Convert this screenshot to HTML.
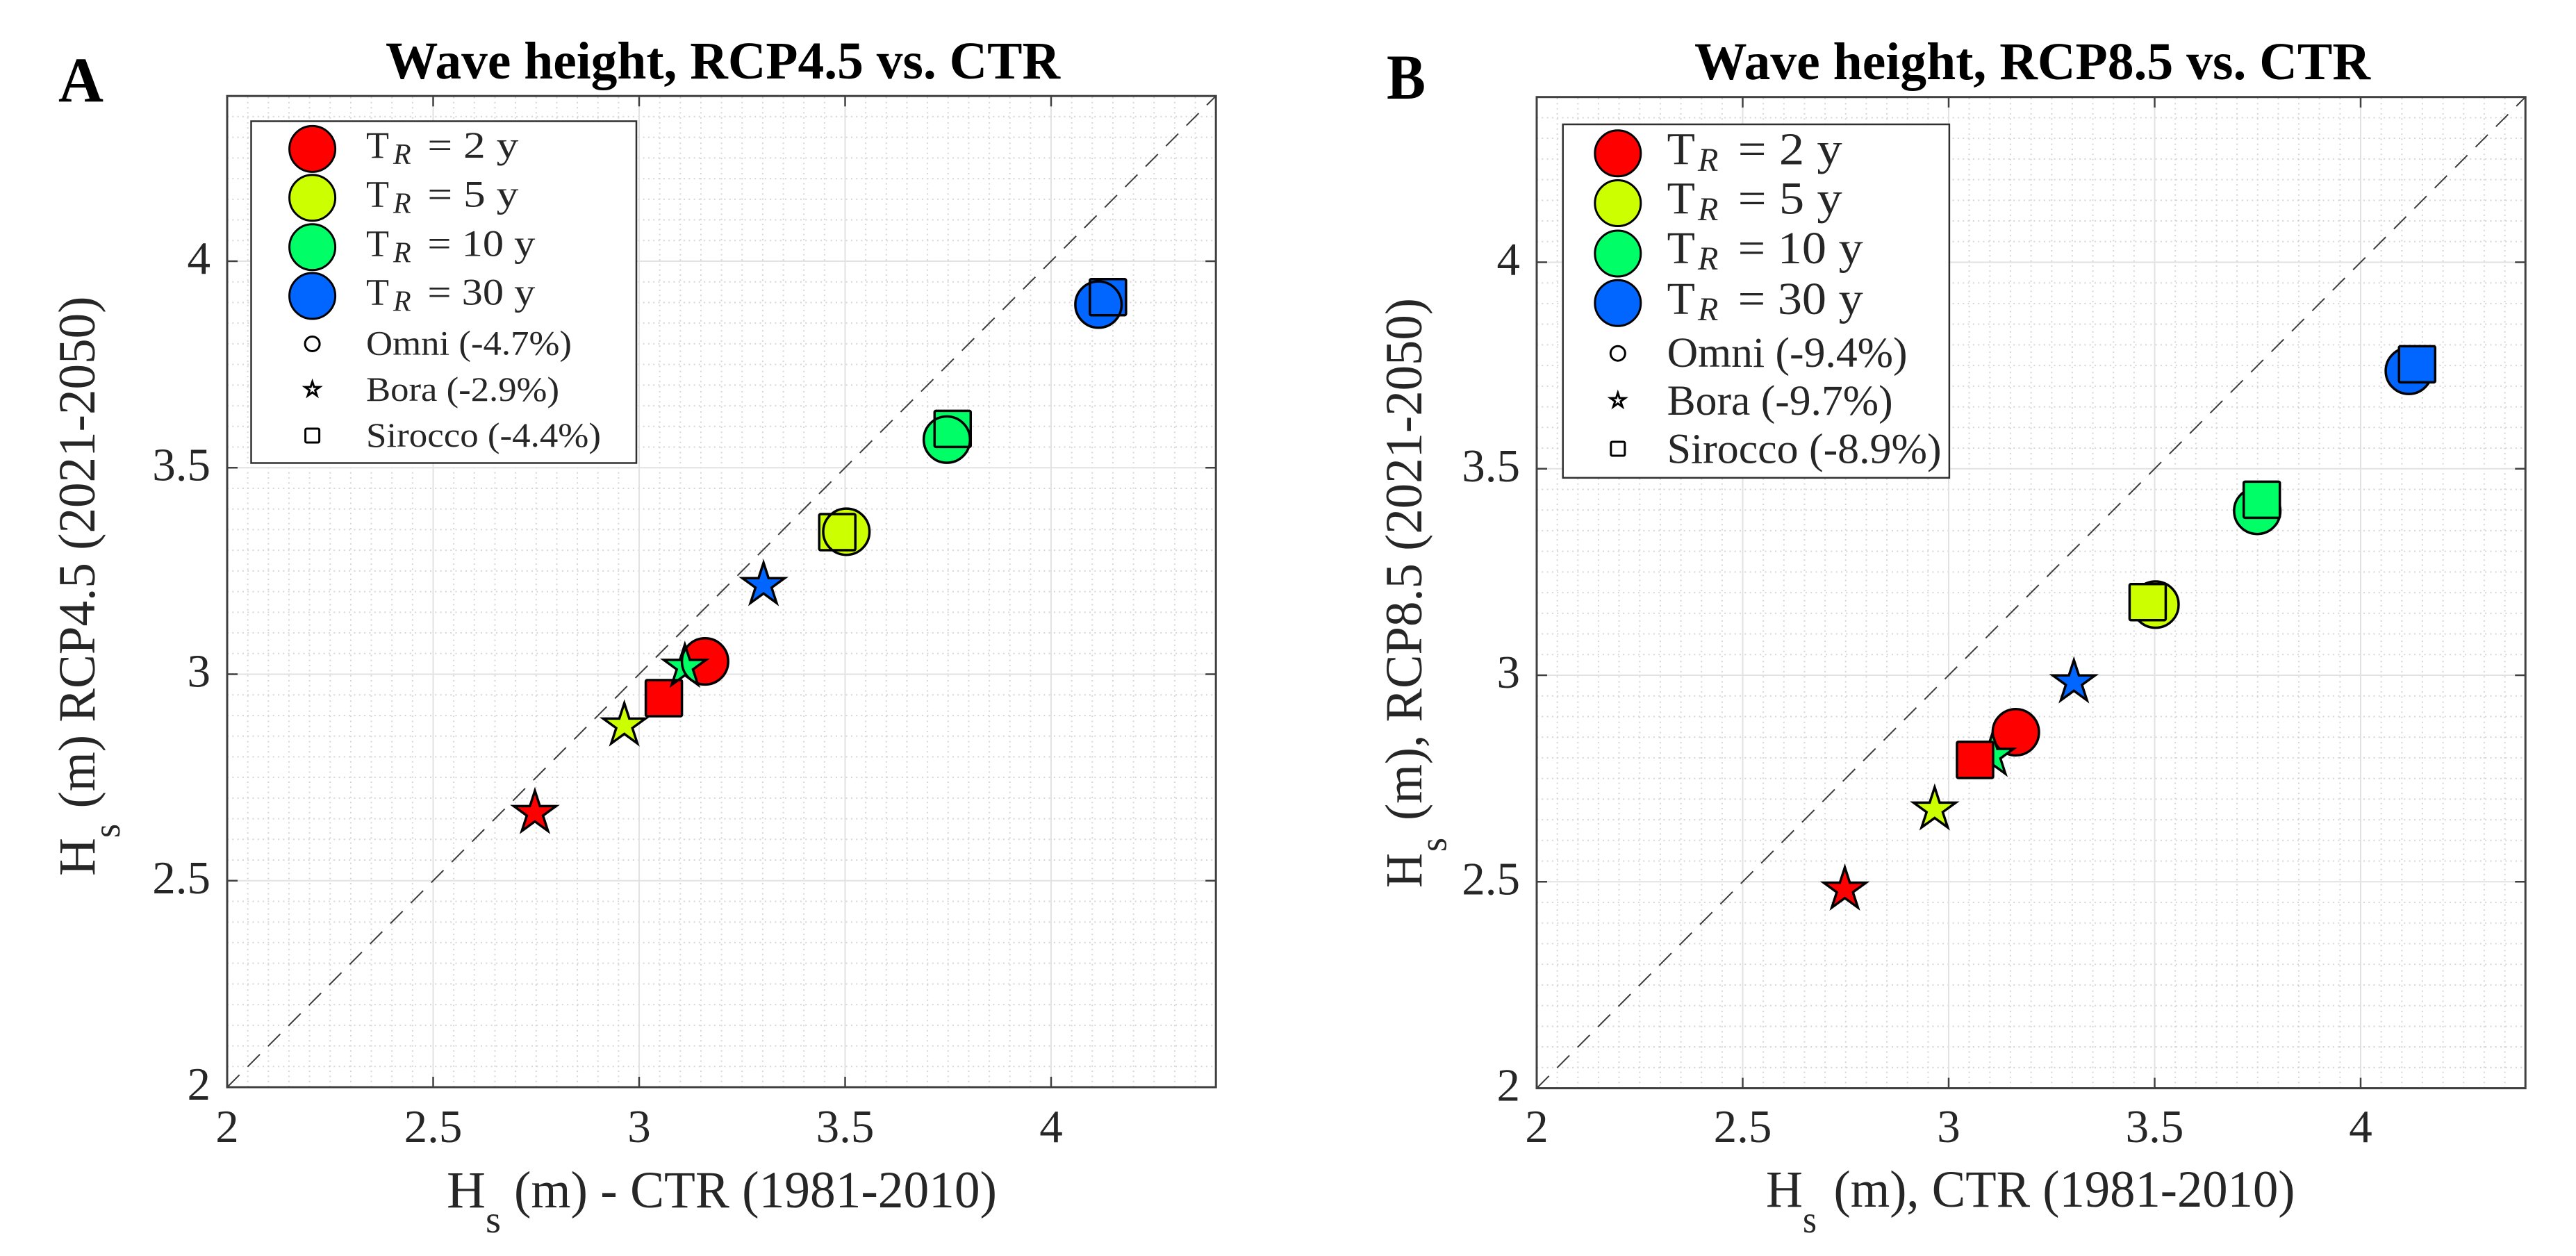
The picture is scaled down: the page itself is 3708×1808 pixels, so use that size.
<!DOCTYPE html>
<html lang="en">
<head>
<meta charset="utf-8">
<title>Wave height scatter comparison</title>
<style>
html,body{margin:0;padding:0;background:#fff;}
svg{display:block;}
text{font-family:"Liberation Serif","DejaVu Serif",serif;fill:#262626;}
.title,.panel{font-weight:bold;fill:#000;}
</style>
</head>
<body>
<svg id="figure" xmlns="http://www.w3.org/2000/svg" width="3708" height="1808" viewBox="0 0 3708 1808">
  <rect x="0" y="0" width="3708" height="1808" fill="#fff"/>
  <g id="plotA"></g>
  <g id="plotB"></g>

  <text class="panel" x="84" y="146" font-size="92" textLength="65" lengthAdjust="spacingAndGlyphs">A</text>
  <text class="title" x="555" y="113" font-size="76" textLength="971" lengthAdjust="spacingAndGlyphs">Wave height, RCP4.5 vs. CTR</text>
  <g>
    <text x="643" y="1738" font-size="75" textLength="56" lengthAdjust="spacingAndGlyphs">H</text>
    <text x="699" y="1774" font-size="55" textLength="22" lengthAdjust="spacingAndGlyphs">s</text>
    <text x="740" y="1738" font-size="75" textLength="695" lengthAdjust="spacingAndGlyphs">(m) - CTR (1981-2010)</text>
  </g>
  <g>
    <text transform="translate(136,1261) rotate(-90)" font-size="75" textLength="55" lengthAdjust="spacingAndGlyphs">H</text>
    <text transform="translate(172,1206) rotate(-90)" font-size="55" textLength="20" lengthAdjust="spacingAndGlyphs">s</text>
    <text transform="translate(136,1163.5) rotate(-90)" font-size="75" textLength="737" lengthAdjust="spacingAndGlyphs">(m) RCP4.5 (2021-2050)</text>
  </g>
  <g>
    <rect x="361.5" y="174.5" width="554.5" height="492" fill="#fff" stroke="#303030" stroke-width="2.5"/>
    <g>
      <circle cx="449.6" cy="214.4" r="33" fill="#ff0000" stroke="#000" stroke-width="3"/>
      <text x="527" y="227" font-size="54">T</text><text x="566" y="236" font-size="42" font-style="italic">R</text>
      <text x="615.4" y="227" font-size="54" textLength="131" lengthAdjust="spacingAndGlyphs">= 2 y</text>
    </g>
    <g>
      <circle cx="449.6" cy="284.7" r="33" fill="#ccff00" stroke="#000" stroke-width="3"/>
      <text x="527" y="297.5" font-size="54">T</text><text x="566" y="306.5" font-size="42" font-style="italic">R</text>
      <text x="615.4" y="297.5" font-size="54" textLength="131" lengthAdjust="spacingAndGlyphs">= 5 y</text>
    </g>
    <g>
      <circle cx="449.6" cy="355.8" r="33" fill="#00ff66" stroke="#000" stroke-width="3"/>
      <text x="527" y="368.7" font-size="54">T</text><text x="566" y="377.7" font-size="42" font-style="italic">R</text>
      <text x="615.4" y="368.7" font-size="54" textLength="155" lengthAdjust="spacingAndGlyphs">= 10 y</text>
    </g>
    <g>
      <circle cx="449.6" cy="426" r="33" fill="#0066ff" stroke="#000" stroke-width="3"/>
      <text x="527" y="438.5" font-size="54">T</text><text x="566" y="447.5" font-size="42" font-style="italic">R</text>
      <text x="615.4" y="438.5" font-size="54" textLength="155" lengthAdjust="spacingAndGlyphs">= 30 y</text>
    </g>
    <g>
      <circle cx="449.6" cy="495" r="10.5" fill="none" stroke="#000" stroke-width="3"/>
      <text x="527" y="510.6" font-size="50" textLength="296" lengthAdjust="spacingAndGlyphs">Omni (-4.7%)</text>
    </g>
    <g>
      <polygon points="449.6,549.5 452.1,557.1 460.1,557.1 453.6,561.8 456.1,569.5 449.6,564.8 443.1,569.5 445.6,561.8 439.1,557.1 447.1,557.1" fill="none" stroke="#000" stroke-width="3"/>
      <text x="527" y="577" font-size="50" textLength="278" lengthAdjust="spacingAndGlyphs">Bora (-2.9%)</text>
    </g>
    <g>
      <rect x="439.6" y="617" width="20" height="20" rx="2" fill="none" stroke="#000" stroke-width="3"/>
      <text x="527" y="642.8" font-size="50" textLength="338" lengthAdjust="spacingAndGlyphs">Sirocco (-4.4%)</text>
    </g>
  </g>

  <text class="panel" x="1996" y="142" font-size="92" textLength="56" lengthAdjust="spacingAndGlyphs">B</text>
  <text class="title" x="2439" y="114" font-size="76" textLength="973" lengthAdjust="spacingAndGlyphs">Wave height, RCP8.5 vs. CTR</text>
  <g>
    <text x="2542" y="1737" font-size="75" textLength="53" lengthAdjust="spacingAndGlyphs">H</text>
    <text x="2595" y="1774" font-size="55" textLength="20" lengthAdjust="spacingAndGlyphs">s</text>
    <text x="2639.5" y="1737" font-size="75" textLength="664" lengthAdjust="spacingAndGlyphs">(m), CTR (1981-2010)</text>
  </g>
  <g>
    <text transform="translate(2046,1278) rotate(-90)" font-size="75" textLength="50" lengthAdjust="spacingAndGlyphs">H</text>
    <text transform="translate(2081.7,1226) rotate(-90)" font-size="55" textLength="20" lengthAdjust="spacingAndGlyphs">s</text>
    <text transform="translate(2046,1181) rotate(-90)" font-size="75" textLength="752" lengthAdjust="spacingAndGlyphs">(m), RCP8.5 (2021-2050)</text>
  </g>
  <g>
    <rect x="2249.7" y="179" width="556.2" height="508.8" fill="#fff" stroke="#303030" stroke-width="2.5"/>
    <g>
      <circle cx="2328.8" cy="220.8" r="33" fill="#ff0000" stroke="#000" stroke-width="3"/>
      <text x="2399.6" y="236.5" font-size="66">T</text><text x="2444" y="246" font-size="48" font-style="italic">R</text>
      <text x="2501.7" y="236.5" font-size="66" textLength="150" lengthAdjust="spacingAndGlyphs">= 2 y</text>
    </g>
    <g>
      <circle cx="2328.8" cy="292.5" r="33" fill="#ccff00" stroke="#000" stroke-width="3"/>
      <text x="2399.6" y="307.6" font-size="66">T</text><text x="2444" y="317" font-size="48" font-style="italic">R</text>
      <text x="2501.7" y="307.6" font-size="66" textLength="150" lengthAdjust="spacingAndGlyphs">= 5 y</text>
    </g>
    <g>
      <circle cx="2328.8" cy="365" r="33" fill="#00ff66" stroke="#000" stroke-width="3"/>
      <text x="2399.6" y="378.8" font-size="66">T</text><text x="2444" y="388" font-size="48" font-style="italic">R</text>
      <text x="2501.7" y="378.8" font-size="66" textLength="180" lengthAdjust="spacingAndGlyphs">= 10 y</text>
    </g>
    <g>
      <circle cx="2328.8" cy="436.2" r="33" fill="#0066ff" stroke="#000" stroke-width="3"/>
      <text x="2399.6" y="452" font-size="66">T</text><text x="2444" y="461" font-size="48" font-style="italic">R</text>
      <text x="2501.7" y="452" font-size="66" textLength="180" lengthAdjust="spacingAndGlyphs">= 30 y</text>
    </g>
    <g>
      <circle cx="2328.8" cy="508.7" r="10.5" fill="none" stroke="#000" stroke-width="3"/>
      <text x="2399.6" y="528" font-size="61" textLength="346" lengthAdjust="spacingAndGlyphs">Omni (-9.4%)</text>
    </g>
    <g>
      <polygon points="2328.8,565.5 2331.3,573.1 2339.3,573.1 2332.8,577.8 2335.3,585.5 2328.8,580.8 2322.3,585.5 2324.8,577.8 2318.3,573.1 2326.3,573.1" fill="none" stroke="#000" stroke-width="3"/>
      <text x="2399.6" y="597" font-size="61" textLength="325" lengthAdjust="spacingAndGlyphs">Bora (-9.7%)</text>
    </g>
    <g>
      <rect x="2318.8" y="636" width="20" height="20" rx="2" fill="none" stroke="#000" stroke-width="3"/>
      <text x="2399.6" y="666.7" font-size="61" textLength="395" lengthAdjust="spacingAndGlyphs">Sirocco (-8.9%)</text>
    </g>
  </g>
</svg>

<script>
const returnPeriods = ['2', '5', '10', '30'];
const axisMin = 2;
const axisMax = 4.4;
const minorStep = 0.05;
const tickValues = [2, 2.5, 3, 3.5, 4];
const tickLabels = ['2', '2.5', '3', '3.5', '4'];

const omniCtrA = [3.16, 3.503, 3.747, 4.115];
const omniRcpA = [3.031, 3.345, 3.568, 3.895];
const boraCtrA = [2.747, 2.964, 3.111, 3.302];
const boraRcpA = [2.664, 2.876, 3.018, 3.216];
const siroccoCtrA = [3.06, 3.481, 3.761, 4.138];
const siroccoRcpA = [2.942, 3.344, 3.594, 3.913];

const omniCtrB = [3.163, 3.502, 3.749, 4.117];
const omniRcpB = [2.862, 3.171, 3.398, 3.737];
const boraCtrB = [2.748, 2.966, 3.106, 3.304];
const boraRcpB = [2.481, 2.675, 2.805, 2.983];
const siroccoCtrB = [3.064, 3.483, 3.76, 4.137];
const siroccoRcpB = [2.795, 3.177, 3.425, 3.753];

const periodFill = { '2': '#ff0000', '5': '#ccff00', '10': '#00ff66', '30': '#0066ff' };

const NS = 'http://www.w3.org/2000/svg';

function make(parent, tag, attrs) {
  const el = document.createElementNS(NS, tag);
  for (const key in attrs) {
    el.setAttribute(key, attrs[key]);
  }
  parent.appendChild(el);
  return el;
}

function starPoints(cx, cy, outer) {
  const inner = outer * 0.382;
  const pts = [];
  for (let i = 0; i < 10; i++) {
    const r = i % 2 === 0 ? outer : inner;
    const a = -Math.PI / 2 + i * Math.PI / 5;
    pts.push((cx + r * Math.cos(a)).toFixed(2) + ',' + (cy + r * Math.sin(a)).toFixed(2));
  }
  return pts.join(' ');
}

function drawShape(parent, shape, px, py, fill, stroke) {
  const paint = { fill: fill, stroke: stroke, 'stroke-width': 3.5, 'stroke-linejoin': 'miter' };
  if (shape === 'omni') {
    return make(parent, 'circle', Object.assign({ cx: px, cy: py, r: 33.3 }, paint));
  }
  if (shape === 'bora') {
    return make(parent, 'polygon', Object.assign({ points: starPoints(px, py, 32) }, paint));
  }
  return make(parent, 'rect', Object.assign({ x: px - 26, y: py - 26, width: 52, height: 52, rx: 2 }, paint));
}

function drawPanel(root, geom, series, edgesOnTop) {
  const xPos = function (v) { return geom.left + (v - axisMin) * geom.unitX; };
  const yPos = function (v) { return geom.bottom - (v - axisMin) * geom.unitY; };
  const xMinPx = xPos(axisMin), xMaxPx = xPos(axisMax);
  const yMinPx = yPos(axisMin), yMaxPx = yPos(axisMax);

  const plotBg = make(root, 'rect', { x: xMinPx, y: yMaxPx, width: xMaxPx - xMinPx, height: yMinPx - yMaxPx, fill: '#fff' });
  
  

  const minorGrid = make(root, 'g', { stroke: '#d6d6d6', 'stroke-width': 2, 'stroke-dasharray': '2 5.3', fill: 'none' });
  
  
  const minorCount = Math.round((axisMax - axisMin) / minorStep);
  for (let i = 1; i < minorCount; i++) {
    if (i % 10 === 0) continue;
    const v = axisMin + i * minorStep;
    const vLine = make(minorGrid, 'line', { x1: xPos(v), x2: xPos(v), y1: yMinPx, y2: yMaxPx });
    
    
    const hLine = make(minorGrid, 'line', { x1: xMinPx, x2: xMaxPx, y1: yPos(v), y2: yPos(v) });
    
    
  }

  const majorGrid = make(root, 'g', { stroke: '#e2e2e2', 'stroke-width': 2, fill: 'none' });
  
  
  tickValues.forEach(function (v) {
    if (v === axisMin) return;
    const vLine = make(majorGrid, 'line', { x1: xPos(v), x2: xPos(v), y1: yMinPx, y2: yMaxPx });
    
    
    const hLine = make(majorGrid, 'line', { x1: xMinPx, x2: xMaxPx, y1: yPos(v), y2: yPos(v) });
    
    
  });

  const identity = make(root, 'line', {
    x1: xPos(axisMin), y1: yPos(axisMin), x2: xPos(axisMax), y2: yPos(axisMax),
    stroke: '#3c3c3c', 'stroke-width': 2, 'stroke-dasharray': '25 16.6'
  });
  
  

  const box = make(root, 'rect', {
    x: xMinPx, y: yMaxPx, width: xMaxPx - xMinPx, height: yMinPx - yMaxPx,
    fill: 'none', stroke: '#404040', 'stroke-width': 3
  });
  
  

  const ticks = make(root, 'g', { stroke: '#404040', 'stroke-width': 2.5 });
  
  
  const tickLen = 15;
  tickValues.forEach(function (v, i) {
    make(ticks, 'line', { x1: xPos(v), x2: xPos(v), y1: yMinPx, y2: yMinPx - tickLen });
    make(ticks, 'line', { x1: xPos(v), x2: xPos(v), y1: yMaxPx, y2: yMaxPx + tickLen });
    make(ticks, 'line', { x1: xMinPx, x2: xMinPx + tickLen, y1: yPos(v), y2: yPos(v) });
    make(ticks, 'line', { x1: xMaxPx, x2: xMaxPx - tickLen, y1: yPos(v), y2: yPos(v) });

    const xLabel = make(root, 'text', { x: xPos(v), y: 1644, 'font-size': 67, 'text-anchor': 'middle' });
    
    
    xLabel.textContent = tickLabels[i];

    const yLabel = make(root, 'text', { x: xMinPx - 24, y: yPos(v) + 18, 'font-size': 67, 'text-anchor': 'end' });
    
    
    yLabel.textContent = tickLabels[i];
  });

  const marks = make(root, 'g', {});
  
  
  series.forEach(function (s) {
    returnPeriods.forEach(function (tr, i) {
      const px = xPos(s.ctr[i]);
      const py = yPos(s.rcp[i]);
      const mark = drawShape(marks, s.shape, px, py, periodFill[tr], edgesOnTop ? 'none' : '#000');
      
      
    });
  });
  if (edgesOnTop) {
    series.forEach(function (s) {
      returnPeriods.forEach(function (tr, i) {
        const edge = drawShape(marks, s.shape, xPos(s.ctr[i]), yPos(s.rcp[i]), 'none', '#000');
        
        
      });
    });
  }
}

drawPanel(
  document.getElementById('plotA'),
  { left: 327, bottom: 1565, unitX: 593, unitY: 594.5 },
  [
    { shape: 'omni', ctr: omniCtrA, rcp: omniRcpA },
    { shape: 'bora', ctr: boraCtrA, rcp: boraRcpA },
    { shape: 'sirocco', ctr: siroccoCtrA, rcp: siroccoRcpA }
  ],
  true
);

drawPanel(
  document.getElementById('plotB'),
  { left: 2212, bottom: 1566.5, unitX: 593, unitY: 594.5 },
  [
    { shape: 'omni', ctr: omniCtrB, rcp: omniRcpB },
    { shape: 'bora', ctr: boraCtrB, rcp: boraRcpB },
    { shape: 'sirocco', ctr: siroccoCtrB, rcp: siroccoRcpB }
  ],
  false
);
</script>
</body>
</html>
